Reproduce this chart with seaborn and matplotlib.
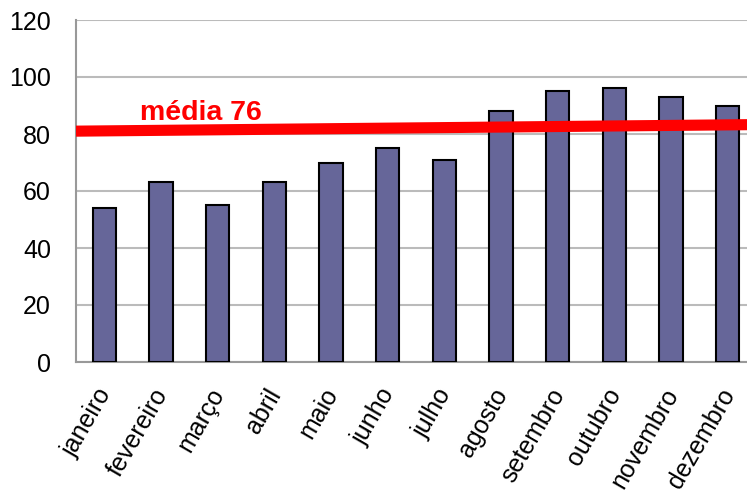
import matplotlib
matplotlib.use("Agg")
import matplotlib.pyplot as plt
import matplotlib.transforms as mtransforms
import seaborn as sns
import pandas as pd

meses = ["janeiro", "fevereiro", "março", "abril", "maio", "junho",
         "julho", "agosto", "setembro", "outubro", "novembro", "dezembro"]
valores = [54, 63, 55, 63, 70, 75, 71, 88, 95, 96, 93, 90]
linha_media = [81.0, 83.3]   # ends of the red line (left, right)
rotulo_media = "média 76"
y_ticks = [0, 20, 40, 60, 80, 100, 120]

sns.set_style("white")
plt.rcParams['font.family'] = ['Liberation Sans', 'DejaVu Sans']

df = pd.DataFrame({"mes": meses, "valor": valores})

fig = plt.figure(figsize=(7.47, 4.93), dpi=100)
ax = fig.add_axes([76 / 747, 1 - 362 / 493, 680 / 747, 342 / 493])

sns.barplot(data=df, x="mes", y="valor", color="#666699", saturation=1,
            edgecolor="black", linewidth=1.5, width=0.41, ax=ax, zorder=3)

ax.plot([-0.5, len(meses) - 0.5], linha_media, color="#ff0000",
        linewidth=8, solid_capstyle="butt", zorder=4)
ax.text(0.63, 87.3, rotulo_media, color="#ff0000", fontsize=20.5,
        fontweight="bold", ha="left", va="center", zorder=5)

ax.set_xlim(-0.5, len(meses) - 0.5)
ax.set_ylim(0, 120)
ax.set_yticks(y_ticks)
ax.yaxis.grid(True, color="#bbbbbb", linewidth=1.5, zorder=0)
ax.set_axisbelow(True)
ax.set_xlabel("")
ax.set_ylabel("")

for side in ["top", "right"]:
    ax.spines[side].set_visible(False)
for side in ["left", "bottom"]:
    ax.spines[side].set_color("#999999")
    ax.spines[side].set_linewidth(1.5)

ax.tick_params(axis="y", length=0, pad=18, labelsize=18, labelcolor="black")
ax.tick_params(axis="x", length=0, pad=16, labelsize=18, labelcolor="black")
offset = mtransforms.ScaledTranslation(-9 / 100, 0, fig.dpi_scale_trans)
for lab in ax.get_xticklabels():
    lab.set_rotation(60)
    lab.set_ha("right")
    lab.set_va("top")
    lab.set_rotation_mode("anchor")
    lab.set_transform(lab.get_transform() + offset)

fig.savefig("out.png", dpi=100)
